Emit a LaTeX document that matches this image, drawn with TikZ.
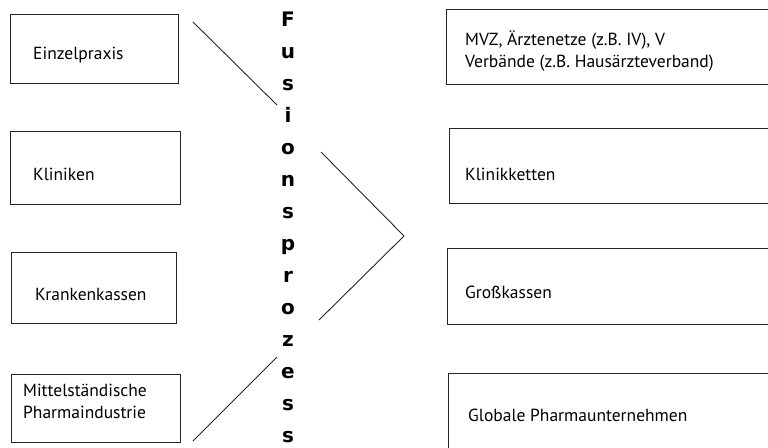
\documentclass[tikz,border=0pt]{standalone}
\usepackage{fontspec}
\setmainfont{PT Sans}
\newfontfamily\vfont{DejaVu Sans}
\begin{document}
\begin{tikzpicture}[x=1pt,y=-1pt,
  box/.style={draw=black!85, line width=1.1pt, rectangle, inner sep=0pt, anchor=north west},
  lbl/.style={inner sep=0pt, anchor=west, align=left, font=\fontsize{17.5}{22}\selectfont},
  ltr/.style={inner sep=0pt, anchor=base, font=\vfont\bfseries\fontsize{20}{20}\selectfont},
  conn/.style={draw=black!85, line width=0.9pt}]
\useasboundingbox (0,0) rectangle (768,447);
\clip (0,0) rectangle (768,447);
% left boxes
\node[box, minimum width=168pt, minimum height=69pt] (b1) at (10,14) {};
\node[box, minimum width=170pt, minimum height=73pt] (b2) at (10,131) {};
\node[box, minimum width=165pt, minimum height=71pt] (b3) at (11,252) {};
\node[box, minimum width=169pt, minimum height=68pt] (b4) at (11,374) {};
\node[lbl] (t1) at (33,55) {Einzelpraxis};
\node[lbl] (t2) at (33,174) {Kliniken};
\node[lbl] (t3) at (35,294) {Krankenkassen};
\node[lbl] (t4) at (23,401) {Mittelständische\\Pharmaindustrie};
% right boxes
\node[box, minimum width=330pt, minimum height=75pt] (r1) at (446,9) {};
\node[box, minimum width=330pt, minimum height=75pt] (r2) at (449,128) {};
\node[box, minimum width=330pt, minimum height=76pt] (r3) at (447,248) {};
\node[box, minimum width=330pt, minimum height=80pt] (r4) at (448,373) {};
\node[lbl] (s1) at (465,51) {MVZ, Ärztenetze (z.B. IV), V\\Verbände (z.B. Hausärzteverband)};
\node[lbl] (s2) at (465,174) {Klinikketten};
\node[lbl] (s3) at (465,292) {Großkassen};
\node[lbl] (s4) at (468,415) {Globale Pharmaunternehmen};
% vertical word
\foreach \c [count=\i from 0] in {F,u,s,i,o,n,s,p,r,o,z,e,s,s} {
  \node[ltr] (v\i) at (288,26.5+32*\i) {\c};
}
% connectors
\coordinate (a1) at (193,22);
\coordinate (a2) at (277,105);
\coordinate (d1) at (193,441);
\coordinate (d2) at (277,357);
\coordinate (c1) at (321,152);
\coordinate (c2) at (404,236);
\coordinate (c3) at (319,320);
\draw[conn] (a1) -- (a2);
\draw[conn] (d1) -- (d2);
\draw[conn] (c1) -- (c2) -- (c3);
\end{tikzpicture}
\end{document}
